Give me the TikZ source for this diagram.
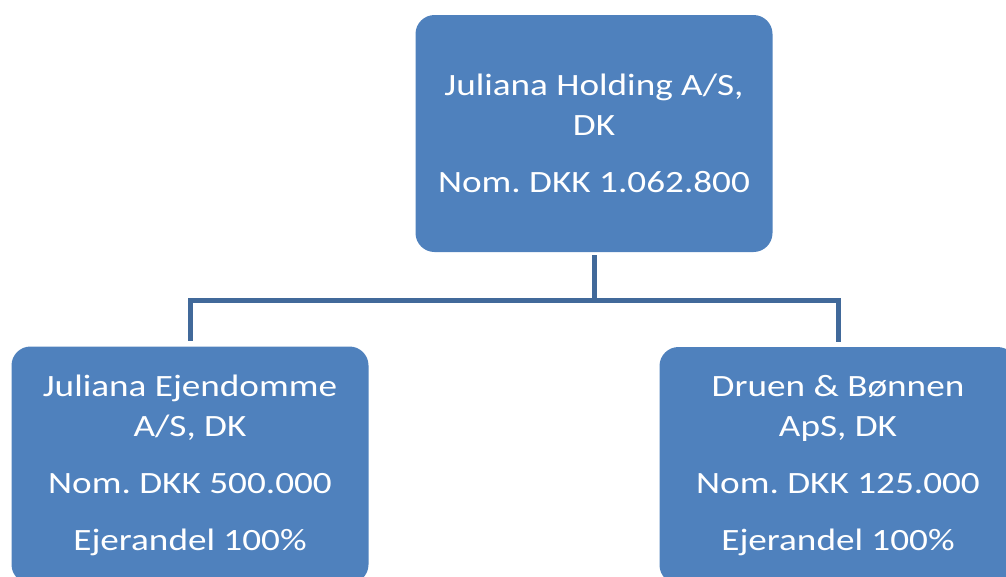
\documentclass[tikz,border=0pt]{standalone}
\usepackage{fontspec}
\usepackage{tikz}
\usepackage{xcolor}
\setmainfont{Carlito}[FakeStretch=1.2]
\frenchspacing
\definecolor{boxblue}{HTML}{4F81BD}
\definecolor{linkblue}{HTML}{41699A}

\begin{document}
\begin{tikzpicture}[x=1pt,y=-1pt,
  firm/.style={fill=boxblue,rounded corners=19pt,text=white,align=center,
    minimum width=357pt,minimum height=237pt,inner sep=0pt,
    font=\fontsize{31}{40}\selectfont},
  link/.style={draw=linkblue,line width=5pt}]
  \useasboundingbox (0,0) rectangle (1006,576);
  \node[firm] (holding) at (594,133.5) {Juliana Holding A/S,\\DK\\[17pt]Nom. DKK 1.062.800};
  \node[firm] (ejendomme) at (190,465) {Juliana Ejendomme\\A/S, DK\\[17pt]Nom. DKK 500.000\\[17pt]Ejerandel 100\%};
  \node[firm] (druen) at (838,465.5) {Druen \& Bønnen\\ApS, DK\\[17pt]Nom. DKK 125.000\\[17pt]Ejerandel 100\%};
  \coordinate (split) at (594,300);
  \draw[link] ([yshift=-3pt]holding.south) -- (split);
  \draw[link] (split) -| ([yshift=5pt]ejendomme.north);
  \draw[link] (split) -| ([yshift=5pt]druen.north);
\end{tikzpicture}
\end{document}
